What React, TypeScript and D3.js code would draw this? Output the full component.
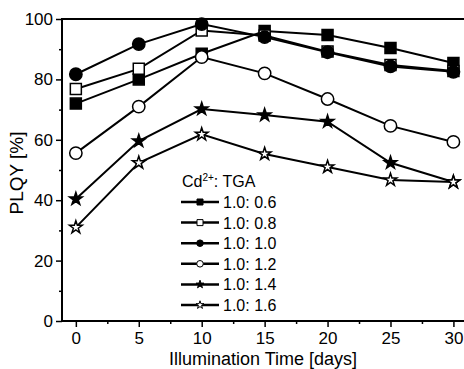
import { useEffect, useRef } from "react";
import * as d3 from "d3";

const days = [0, 5, 10, 15, 20, 25, 30];
const ratios = ["1.0: 0.6", "1.0: 0.8", "1.0: 1.0", "1.0: 1.2", "1.0: 1.4", "1.0: 1.6"];
const q06 = [72, 80, 88.5, 96, 94.7, 90.4, 85.4];
const q08 = [76.8, 83.5, 96.2, 94.5, 89.2, 84.8, 82.8];
const q10 = [81.7, 91.7, 98.3, 94, 89, 84.3, 82.5];
const q12 = [55.6, 71, 87.4, 82, 73.5, 64.6, 59.3];
const q14 = [40.4, 59.6, 70.2, 68.2, 66, 52.4, 46];
const q16 = [31, 52.4, 61.8, 55.3, 51, 46.7, 46];
const symbols = ["square", "square", "circle", "circle", "star", "star"];
const filled = [true, false, true, false, true, false];
const yTicks = [0, 20, 40, 60, 80, 100];
const xTicks = [0, 5, 10, 15, 20, 25, 30];

export default function App() {
  const svgRef = useRef<SVGSVGElement>(null);

  useEffect(() => {
    if (!svgRef.current) return;
    const width = 464;
    const height = 369;
    const svg = d3.select(svgRef.current);
    svg.selectAll("*").remove();

    const left = 62, right = 466, top = 19, bottom = 321;
    const x = d3.scaleLinear().domain([-1.1, 31]).range([left, right]);
    const y = d3.scaleLinear().domain([0, 100]).range([bottom, top]);
    const font = "'Liberation Sans', Arial, sans-serif";

    const series = [q06, q08, q10, q12, q14, q16];

    const symPath = (kind: string, big: boolean) => {
      const type = kind === "square" ? d3.symbolSquare : kind === "circle" ? d3.symbolCircle : d3.symbolStar;
      const size = kind === "square" ? (big ? 121 : 36) : kind === "circle" ? (big ? 120 : 34) : (big ? 50 : 20);
      return d3.symbol().type(type).size(size)()!;
    };

    const g = svg.append("g");

    // lines
    const line = d3.line<number>().x((d, i) => x(days[i])).y((d) => y(d));
    series.forEach((s) => {
      g.append("path")
        .attr("d", line(s))
        .attr("fill", "none")
        .attr("stroke", "#000")
        .attr("stroke-width", 2);
    });

    // markers
    series.forEach((s, si) => {
      g.selectAll(null)
        .data(s)
        .enter()
        .append("path")
        .attr("d", symPath(symbols[si], true))
        .attr("transform", (d, i) => `translate(${x(days[i])},${y(d)})`)
        .attr("fill", filled[si] ? "#000" : "#fff")
        .attr("stroke", "#000")
        .attr("stroke-width", 1.5);
    });

    // frame
    svg.append("line").attr("x1", left).attr("x2", width).attr("y1", top).attr("y2", top)
      .attr("stroke", "#000").attr("stroke-width", 2);

    const yAxis = svg.append("g").attr("transform", `translate(${left},0)`)
      .call(d3.axisLeft(y).tickValues(yTicks).tickSize(6).tickSizeOuter(0).tickPadding(3));
    yAxis.append("g").call(d3.axisLeft(y).tickValues([10, 30, 50, 70, 90]).tickSize(3).tickFormat(() => ""));
    const xAxis = svg.append("g").attr("transform", `translate(0,${bottom})`)
      .call(d3.axisBottom(x).tickValues(xTicks).tickSize(6).tickSizeOuter(0).tickPadding(5));
    xAxis.append("g").call(d3.axisBottom(x).tickValues([2.5, 7.5, 12.5, 17.5, 22.5, 27.5]).tickSize(3).tickFormat(() => ""));

    [yAxis, xAxis].forEach((a) => {
      a.selectAll("path.domain").attr("stroke", "#000").attr("stroke-width", 2);
      a.selectAll("line").attr("stroke", "#000").attr("stroke-width", 1.5);
      a.selectAll("text").attr("font-family", font).attr("font-size", 17).attr("fill", "#000");
    });
    yAxis.selectAll("path.domain").attr("d", `M0,${bottom + 1}V${top - 1}`);
    xAxis.selectAll("path.domain").attr("d", `M${left - 1},0H${width}`);

    svg.append("text")
      .attr("x", 263)
      .attr("y", 365)
      .attr("text-anchor", "middle")
      .attr("font-family", font)
      .attr("font-size", 18)
      .text("Illumination Time [days]");

    svg.append("text")
      .attr("transform", `translate(23,173) rotate(-90)`)
      .attr("text-anchor", "middle")
      .attr("font-family", font)
      .attr("font-size", 19)
      .text("PLQY [%]");

    // legend
    const lg = svg.append("g");
    const title = lg.append("text")
      .attr("x", 182)
      .attr("y", 187)
      .attr("font-family", font)
      .attr("font-size", 16);
    title.append("tspan").text("Cd");
    title.append("tspan").attr("dy", -6).attr("font-size", 10).text("2+");
    title.append("tspan").attr("dy", 6).text(": TGA");

    ratios.forEach((r, i) => {
      const cy = 202 + i * 20.6;
      lg.append("line").attr("x1", 181).attr("x2", 219).attr("y1", cy).attr("y2", cy)
        .attr("stroke", "#000").attr("stroke-width", 2.5);
      lg.append("path")
        .attr("d", symPath(symbols[i], false))
        .attr("transform", `translate(200,${cy})`)
        .attr("fill", filled[i] ? "#000" : "#fff")
        .attr("stroke", "#000")
        .attr("stroke-width", 1);
      lg.append("text")
        .attr("x", 223)
        .attr("y", cy + 6)
        .attr("font-family", font)
        .attr("font-size", 16)
        .text(r);
    });

    svg.attr("width", width).attr("height", height);
  }, []);

  return (
    <svg
      ref={svgRef}
      width={464}
      height={369}
      style={{ position: "absolute", left: 0, top: 0, background: "#fff" }}
    />
  );
}
